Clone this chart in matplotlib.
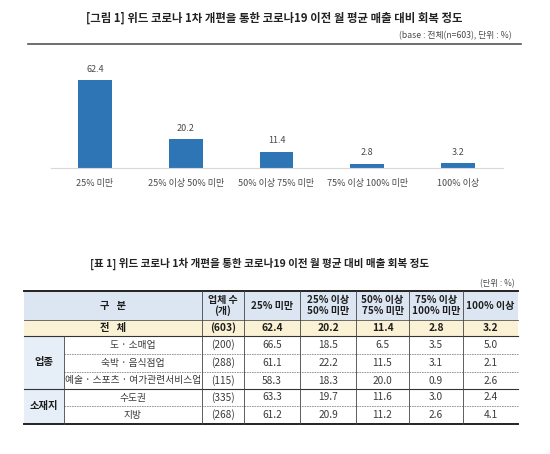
import matplotlib

matplotlib.use("Agg")
import matplotlib.pyplot as plt
from matplotlib.lines import Line2D
from matplotlib.patches import Rectangle

plt.rcParams["font.family"] = ["Noto Sans CJK KR", "DejaVu Sans"]

W, H = 550, 454

# ---- data ----
title = "[그림 1] 위드 코로나 1차 개편을 통한 코로나19 이전 월 평균 매출 대비 회복 정도"
subtitle = "(base : 전체(n=603), 단위 : %)"
table_title = "[표 1] 위드 코로나 1차 개편을 통한 코로나19 이전 월 평균 대비 매출 회복 정도"
unit_note = "(단위 : %)"

categories = ["25% 미만", "25% 이상 50% 미만", "50% 이상 75% 미만", "75% 이상 100% 미만", "100% 이상"]
overall = [62.4, 20.2, 11.4, 2.8, 3.2]
overall_n = 603

header_cols = ["업체 수\n(개)", "25% 미만", "25% 이상\n50% 미만", "50% 이상\n75% 미만",
               "75% 이상\n100% 미만", "100% 이상"]
groups = ["업종", "소재지"]
group_sizes = [3, 2]
row_labels = ["도 · 소매업", "숙박 · 음식점업", "예술 · 스포츠 · 여가관련서비스업", "수도권", "지방"]
row_n = [200, 288, 115, 335, 268]
row_values = [
    [66.5, 18.5, 6.5, 3.5, 5.0],
    [61.1, 22.2, 11.5, 3.1, 2.1],
    [58.3, 18.3, 20.0, 0.9, 2.6],
    [63.3, 19.7, 11.6, 3.0, 2.4],
    [61.2, 20.9, 11.2, 2.6, 4.1],
]

# ---- layout (pixels) ----
BAR_COLOR = "#2e75b6"
TXT = "#4a4a4a"
DARK = "#3a3a3a"
BOLD = "#1e1e1e"
HEAD_FILL = "#dce6f2"
TOTAL_FILL = "#fbf1d5"

col_x = [24, 64, 202, 244, 300, 356, 409, 463, 518]
head_y = (291, 320)
total_y = (320, 336)
row_y = [336, 354, 372, 389, 406, 424]

fig = plt.figure(figsize=(W / 100, H / 100), dpi=100)

# title block of the chart
fig.text(274 / W, 1 - 18 / H, title, ha="center", va="center", fontsize=8.2, weight="bold", color="#222222")
fig.text(512 / W, 1 - 36 / H, subtitle, ha="right", va="center", fontsize=6.3, color=TXT)
fig.add_artist(Line2D([28 / W, 521 / W], [1 - 43.5 / H] * 2, color="#555555", lw=1.2))

# bar chart
ax = fig.add_axes([51 / W, (H - 167.5) / H, 452 / W, 98 / H])
xs = range(len(categories))
bars = ax.bar(xs, overall, width=0.37, color=BAR_COLOR)
for b, v in zip(bars, overall):
    ax.annotate(f"{v:.1f}", (b.get_x() + b.get_width() / 2, v), xytext=(0, 4.5),
                textcoords="offset points", ha="center", va="bottom", fontsize=6.5, color=TXT)
ax.set_xlim(-0.485, 4.496)
ax.set_ylim(0, 70)
ax.set_xticks(list(xs))
ax.set_xticklabels(categories, fontsize=6.5, color=TXT)
ax.tick_params(axis="x", length=0, pad=8.5)
ax.set_yticks([])
for s in ("top", "right", "left"):
    ax.spines[s].set_visible(False)
ax.spines["bottom"].set_color("#d9d9d9")
ax.spines["bottom"].set_linewidth(0.8)
ax.patch.set_alpha(0)

# table
tab = fig.add_axes([0, 0, 1, 1])
tab.set_xlim(0, W)
tab.set_ylim(H, 0)
tab.axis("off")

tab.text(260, 264, table_title, ha="center", va="center", fontsize=7.6, weight="bold", color="#222222")
tab.text(515, 284, unit_note, ha="right", va="center", fontsize=6, color=TXT)

left, right = col_x[0], col_x[-1]
tab.add_patch(Rectangle((left, head_y[0]), right - left, head_y[1] - head_y[0], color=HEAD_FILL, lw=0))
tab.add_patch(Rectangle((left, total_y[0]), right - left, total_y[1] - total_y[0], color=TOTAL_FILL, lw=0))
tab.add_patch(Rectangle((left, row_y[0]), col_x[1] - left, row_y[-1] - row_y[0], color="#e6eef8", lw=0))

# header
hy = sum(head_y) / 2
tab.text((col_x[0] + col_x[2]) / 2, hy, "구   분", ha="center", va="center", fontsize=7.4, weight="bold", color=BOLD)
for i, lab in enumerate(header_cols):
    cx = (col_x[i + 2] + col_x[i + 3]) / 2
    tab.text(cx, hy, lab, ha="center", va="center", fontsize=7.2, weight="bold", color=BOLD, linespacing=1.05)

# total row
ty = sum(total_y) / 2
tab.text((col_x[0] + col_x[2]) / 2, ty, "전   체", ha="center", va="center", fontsize=7.4, weight="bold", color=BOLD)
tot_cells = [f"({overall_n})"] + [f"{v:.1f}" for v in overall]
for i, s in enumerate(tot_cells):
    cx = (col_x[i + 2] + col_x[i + 3]) / 2
    tab.text(cx, ty, s, ha="center", va="center", fontsize=7.4, weight="bold", color=BOLD)

# data rows
for r, (lab, n, vals) in enumerate(zip(row_labels, row_n, row_values)):
    cy = (row_y[r] + row_y[r + 1]) / 2
    tab.text((col_x[1] + col_x[2]) / 2, cy, lab, ha="center", va="center", fontsize=7, color=DARK)
    cells = [f"({n})"] + [f"{v:.1f}" for v in vals]
    for i, s in enumerate(cells):
        cx = (col_x[i + 2] + col_x[i + 3]) / 2
        tab.text(cx, cy, s, ha="center", va="center", fontsize=7.3, color=DARK)

# group labels
start = 0
for g, size in zip(groups, group_sizes):
    gy = (row_y[start] + row_y[start + size]) / 2
    tab.text((col_x[0] + col_x[1]) / 2, gy, g, ha="center", va="center", fontsize=7.4, weight="bold", color=BOLD)
    start += size

# rules
tab.plot([left, right], [head_y[0]] * 2, color="#222222", lw=1.4)
tab.plot([left, right], [head_y[1]] * 2, color="#555555", lw=0.6)
tab.plot([left, right], [total_y[1]] * 2, color="#333333", lw=0.8)
start = 0
for size in group_sizes:
    for k in range(1, size):
        yy = row_y[start + k]
        tab.plot([col_x[1], right], [yy, yy], color="#888888", lw=0.6, ls=(0, (2, 1)))
    start += size
    if start < len(row_labels):
        tab.plot([left, right], [row_y[start]] * 2, color="#333333", lw=0.8)
tab.plot([left, right], [row_y[-1]] * 2, color="#222222", lw=1.4)
for x in col_x[2:-1]:
    tab.plot([x, x], [head_y[0], row_y[-1]], color="#444444", lw=0.6)
tab.plot([col_x[1]] * 2, [row_y[0], row_y[-1]], color="#444444", lw=0.6)

fig.savefig("out.png", dpi=100)
